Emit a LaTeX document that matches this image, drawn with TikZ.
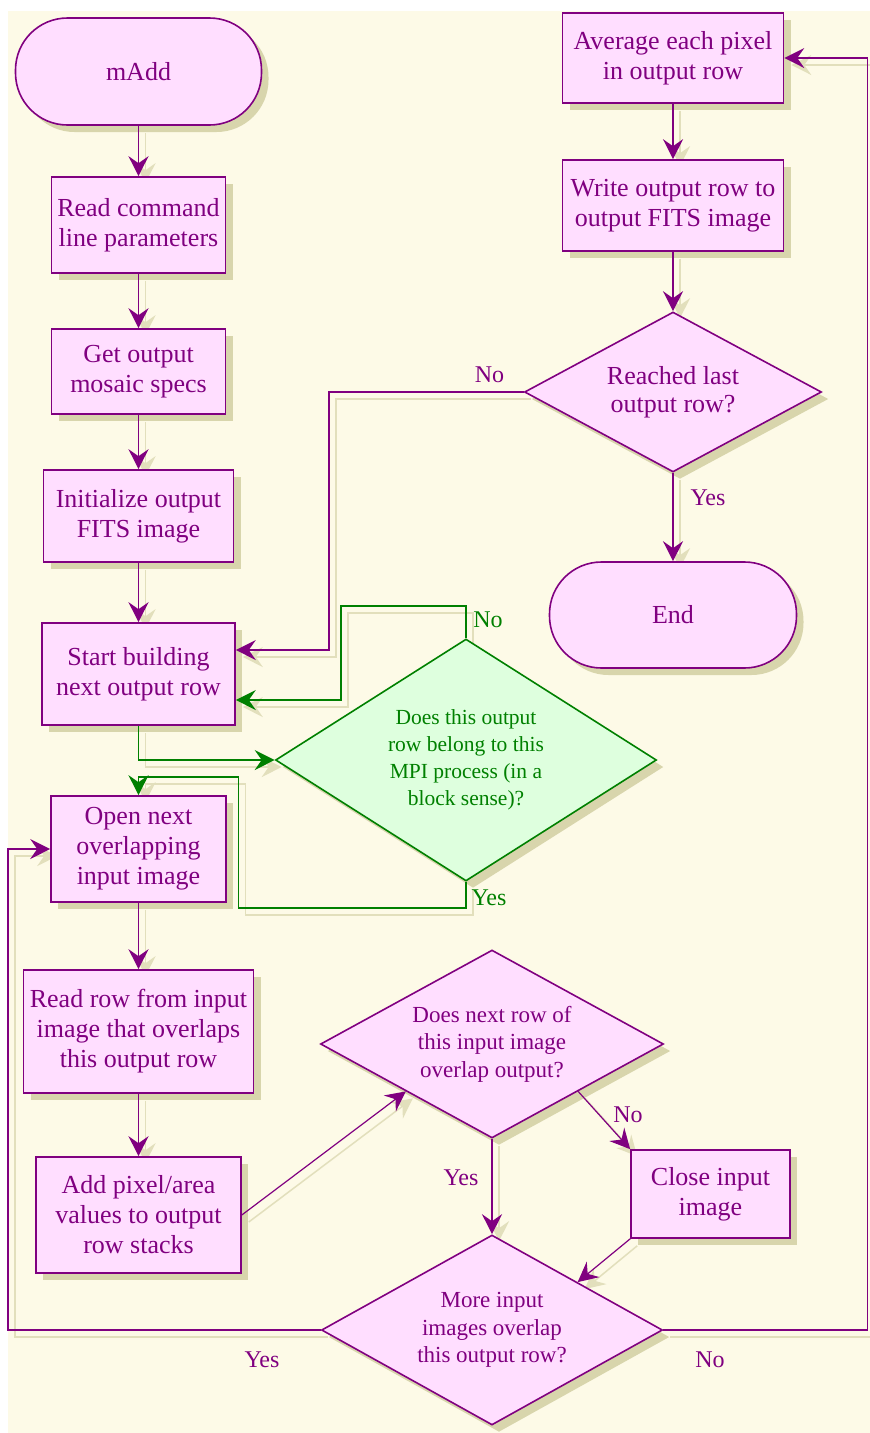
\documentclass[tikz,border=0pt]{standalone}
\usepackage{fontspec}
\setmainfont{Liberation Serif}
\usetikzlibrary{arrows.meta,shapes.geometric,shadows,calc}

\definecolor{cream}{HTML}{FDFAE7}
\definecolor{plum}{HTML}{800080}
\definecolor{pinkfill}{HTML}{FFDEFF}
\definecolor{leaf}{HTML}{008000}
\definecolor{mintfill}{HTML}{DEFFDE}
\definecolor{shade}{HTML}{D8D5AC}
\definecolor{lineshade}{HTML}{E2DFBC}

\pgfdeclarelayer{backdrop}
\pgfdeclarelayer{ghost}
\pgfsetlayers{backdrop,ghost,main}

\tikzset{
  tip/.style={-{Stealth[length=20pt,width=20pt,inset=7pt]}},
  shadowed/.style={general shadow={shadow xshift=7pt,shadow yshift=-7pt,fill=shade,draw=none}},
  boxfont/.style={font=\fontsize{26}{30}\selectfont},
  askfont/.style={font=\fontsize{23}{27.5}\selectfont},
  stepbox/.style={rectangle,draw=plum,fill=pinkfill,line width=1.6pt,text=plum,
    align=center,inner sep=0pt,shadowed,boxfont},
  terminal/.style={stepbox,rounded corners=52pt},
  decision/.style={diamond,draw=plum,fill=pinkfill,line width=1.6pt,text=plum,
    align=center,inner sep=0pt,shadowed,askfont},
  gdecision/.style={decision,draw=leaf,fill=mintfill,text=leaf,
    font=\fontsize{21.5}{27}\selectfont},
  flow/.style={draw=plum,line width=1.6pt,tip},
  thinflow/.style={flow,line width=1.2pt},
  gflow/.style={draw=leaf,line width=1.6pt,tip},
  ghostline/.style={draw=lineshade,line width=1.5pt,tip,
    transform canvas={shift={(7pt,-7pt)}}},
  lab/.style={text=plum,font=\fontsize{24}{28}\selectfont,anchor=base,inner sep=0pt},
  glab/.style={lab,text=leaf},
}

% connector with its pale offset shadow underneath the shapes
\newcommand\link[2]{%
  \begin{pgfonlayer}{ghost}\draw[ghostline] #2;\end{pgfonlayer}%
  \draw[#1] #2;}

\begin{document}
\begin{tikzpicture}[x=1pt,y=-1pt]
\useasboundingbox (0,0) rectangle (870,1433);
\begin{pgfonlayer}{backdrop}
  \fill[white] (0,0) rectangle (870,1433);
  \fill[cream] (8,11) rectangle (870,1433);
\end{pgfonlayer}

% left column
\node[terminal,minimum width=246pt,minimum height=107pt] (madd) at (138.5,71.5) {mAdd};
\node[stepbox,minimum width=174pt,minimum height=96pt] (read) at (138.5,225) {Read command\\line parameters};
\node[stepbox,minimum width=174pt,minimum height=85pt] (specs) at (138.5,371.5) {Get output\\mosaic specs};
\node[stepbox,minimum width=190pt,minimum height=92pt] (init) at (138.5,516) {Initialize output\\FITS image};
\node[stepbox,minimum width=193pt,minimum height=102pt] (start) at (138.5,674) {Start building\\next output row};
\node[stepbox,minimum width=175pt,minimum height=106pt] (open) at (138.5,849) {Open next\\overlapping\\input image};
\node[stepbox,minimum width=230pt,minimum height=123pt] (readrow) at (138.5,1031.5) {Read row from input\\image that overlaps\\this output row};
\node[stepbox,minimum width=205pt,minimum height=116pt] (add) at (138.5,1215) {Add pixel/area\\values to output\\row stacks};

% decisions in the middle
\node[gdecision,aspect=1.574,minimum width=381pt,minimum height=242pt] (gd) at (466,760)
  {Does this output\\row belong to this\\MPI process (in a\\block sense)?};
\node[decision,aspect=1.824,minimum width=343pt,minimum height=188pt] (nd) at (492,1044)
  {Does next row of\\this input image\\overlap output?};
\node[stepbox,minimum width=159pt,minimum height=88pt] (close) at (710.5,1194) {Close input\\image};
\node[decision,aspect=1.795,minimum width=341pt,minimum height=190pt] (more) at (492,1330)
  {More input\\images overlap\\this output row?};

% right column
\node[stepbox,minimum width=221pt,minimum height=90pt] (avg) at (673,58) {Average each pixel\\in output row};
\node[stepbox,minimum width=221pt,minimum height=91pt] (write) at (673,205.5) {Write output row to\\output FITS image};
\node[decision,aspect=1.856,minimum width=297pt,minimum height=160pt,font=\fontsize{26}{28}\selectfont] (reached) at (673,392)
  {Reached last\\output row?};
\node[terminal,minimum width=247pt,minimum height=106pt] (end) at (673,615) {End};

% straight runs
\link{flow}{(madd.south) -- (read.north)}
\link{flow}{(read.south) -- (specs.north)}
\link{flow}{(specs.south) -- (init.north)}
\link{flow}{(init.south) -- (start.north)}
\link{flow}{(open.south) -- (readrow.north)}
\link{flow}{(readrow.south) -- (add.north)}
\link{flow}{(avg.south) -- (write.north)}
\link{flow}{(write.south) -- (reached.north)}
\link{flow}{(reached.south) -- (end.north)}
\link{flow}{(nd.south) -- (more.north)}

% diagonal runs
\link{thinflow}{(add.east) -- (nd.south west)}
\link{thinflow}{(nd.south east) -- (close.north west)}
\link{thinflow}{(close.south west) -- (more.north east)}

% loops
\link{flow}{(reached.west) -| ($(start.east)+(93,-24)$) -- ($(start.east)+(0,-24)$)}
\link{flow}{(more.west) -| ($(open.west)+(-42,0)$) -- (open.west)}
\link{flow}{(more.east) -| ($(avg.east)+(83,0)$) -- (avg.east)}

% MPI process test
\link{gflow}{(start.south) |- (gd.west)}
\link{gflow}{(gd.north) |- ($(start.east)+(105,-68)$) |- ($(start.east)+(0,26)$)}
\link{gflow}{(gd.south) |- ($(open.north)+(100,113)$) |- ($(open.north)+(0,-18)$) -- (open.north)}

% branch labels
\node[lab] (reachedno) at (489.5,382) {No};
\node[lab] (reachedyes) at (708,505) {Yes};
\node[glab] (gdno) at (488,627) {No};
\node[glab] (gdyes) at (489,905) {Yes};
\node[lab] (ndyes) at (461,1185) {Yes};
\node[lab] (ndno) at (628,1122) {No};
\node[lab] (moreyes) at (262,1367) {Yes};
\node[lab] (moreno) at (710,1367) {No};
\end{tikzpicture}
\end{document}
